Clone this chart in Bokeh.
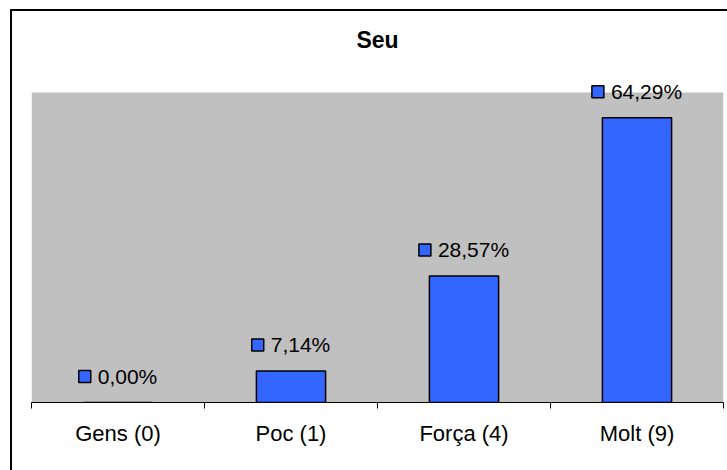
from bokeh.plotting import figure
from bokeh.models import (ColumnDataSource, Range1d, LinearAxis, FixedTicker,
                          BoxAnnotation)
from bokeh.embed import file_html
from bokeh.resources import INLINE
from bokeh.core.properties import value

# ---- data ----
categories = ["Gens (0)", "Poc (1)", "Força (4)", "Molt (9)"]
percent = [0.0, 7.14, 28.57, 64.29]
labels = ["0,00%", "7,14%", "28,57%", "64,29%"]
title_text = "Seu"

# ---- layout constants ----
W, H = 727, 470
ML, MR, MT, MB = 31, 4, 70, 68
PLOT_TOP = 92          # top of the grey plot area (px from canvas top)
YMAX = 0.70            # value at the top of the grey area
FONT = "Liberation Sans"
LBL_FS = 21
frame_w = W - ML - MR
frame_h = H - MT - MB
px_per_cat = frame_w / len(categories)
px_per_unit = (H - MB - PLOT_TOP) / YMAX
YTOP = frame_h / px_per_unit

# approximate Arial widths to centre "square + text" groups
CW = {",": 0.278, "%": 0.889}
def text_w(s, fs):
    return sum(CW.get(c, 0.556) for c in s) * fs

SQ, GAP, LIFT = 12, 7, 26
xs, tops, sq_x, lbl_x, txt_off, lbl_y = [], [], [], [], [], []
for i, v in enumerate(percent):
    cx = i + 0.5
    frac = v / 100.0
    w = text_w(labels[i], LBL_FS)
    total = SQ + GAP + w
    xs.append(cx)
    tops.append(frac)
    sq_x.append(cx + (-total / 2 + SQ / 2) / px_per_cat)
    lbl_x.append(cx)
    txt_off.append(-total / 2 + SQ + GAP)
    lbl_y.append(frac + LIFT / px_per_unit)

src = ColumnDataSource(dict(x=xs, top=tops, sqx=sq_x, lx=lbl_x,
                            off=txt_off, ly=lbl_y, label=labels))

p = figure(width=W, height=H, output_backend="svg", toolbar_location=None,
           x_range=Range1d(0, len(categories)), y_range=Range1d(0, YTOP),
           x_axis_location=None, y_axis_location=None,
           min_border_left=ML, min_border_right=MR,
           min_border_top=MT, min_border_bottom=MB,
           background_fill_color=None, border_fill_color=None,
           outline_line_color=None, title=title_text)
p.grid.visible = False

# outer chart border (left and top edges visible in the window)
p.styles = {
    "background-color": "white",
    "background-image": "linear-gradient(#000,#000), linear-gradient(#000,#000)",
    "background-size": "2px 100%, 100% 2px",
    "background-position": "10px 9px, 10px 9px",
    "background-repeat": "no-repeat",
}

p.title.align = "center"
p.title.text_font = FONT
p.title.text_font_size = "23px"
p.title.text_font_style = "bold"
p.title.text_color = "black"
p.title.standoff = 36

grey = BoxAnnotation(bottom=0, top=YMAX, fill_color="#C0C0C0", fill_alpha=1,
                     line_color=None, level="underlay")
p.add_layout(grey)

p.vbar(x="x", top="top", width=0.4, source=src, fill_color="#3366FF",
       line_color="black", line_width=1.5)

p.scatter(x="sqx", y="ly", source=src, marker="square", size=SQ,
          fill_color="#3366FF", line_color="black", line_width=1.5)
p.text(x="lx", y="ly", text="label", source=src, x_offset="off",
       text_align="left", text_baseline="middle",
       text_font=value(FONT), text_font_size=f"{LBL_FS}px", text_color="black")

ticker = FixedTicker(ticks=[i + 0.5 for i in range(len(categories))],
                     minor_ticks=list(range(len(categories) + 1)))
xaxis = LinearAxis(ticker=ticker)
xaxis.major_label_overrides = {i + 0.5: c for i, c in enumerate(categories)}
xaxis.major_tick_line_color = None
xaxis.minor_tick_in = 0
xaxis.minor_tick_out = 6
xaxis.minor_tick_line_color = "black"
xaxis.axis_line_color = "black"
xaxis.axis_line_width = 1
xaxis.major_label_standoff = 12
xaxis.major_label_text_font = FONT
xaxis.major_label_text_font_size = "22px"
xaxis.major_label_text_color = "black"
p.add_layout(xaxis, "below")

open("out.html", "w").write(file_html(p, INLINE))
